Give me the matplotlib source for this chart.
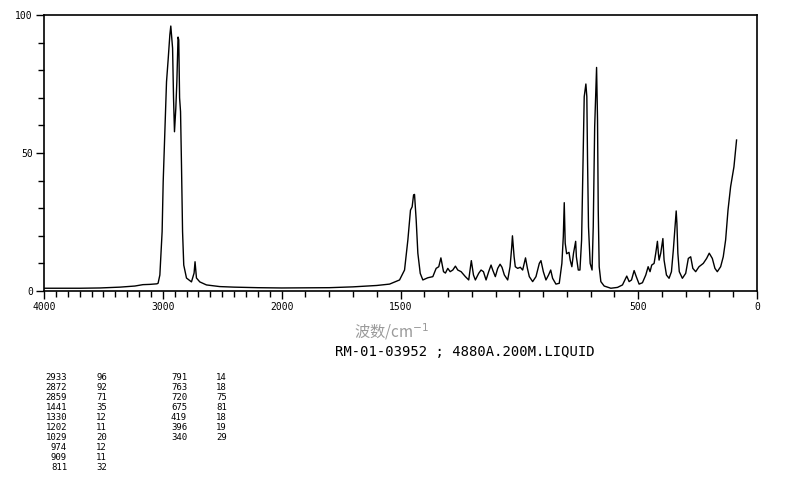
import numpy as np
import matplotlib
matplotlib.use("Agg")
import matplotlib.pyplot as plt
from matplotlib.ticker import FixedLocator, NullFormatter, FixedFormatter

# spectrum trace (wavenumber cm-1, intensity)
wavenumber = [4000, 3697, 3529, 3361, 3235, 3168, 3109, 3050, 3040, 3025,
              3006, 2997, 2983, 2969, 2955, 2941, 2933, 2918, 2910, 2902,
              2891, 2882, 2872, 2866, 2859, 2851, 2843, 2834, 2824, 2801,
              2759, 2737, 2729, 2717, 2689, 2633, 2521, 2400, 2200, 2000,
              1800, 1700, 1600, 1546, 1504, 1483, 1469, 1458, 1451, 1445,
              1441, 1434, 1427, 1417, 1406, 1385, 1364, 1350, 1339, 1330,
              1319, 1311, 1301, 1291, 1280, 1269, 1259, 1245, 1227, 1213,
              1202, 1193, 1185, 1171, 1161, 1151, 1140, 1129, 1119, 1112,
              1101, 1091, 1081, 1073, 1063, 1049, 1039, 1032, 1029, 1022,
              1017, 1007, 996, 986, 974, 966, 958, 944, 930, 916,
              909, 899, 888, 877, 868, 860, 846, 832, 821, 815,
              811, 807, 801, 791, 786, 779, 772, 763, 760, 752,
              745, 738, 732, 727, 720, 716, 713, 709, 702, 694,
              689, 683, 675, 671, 668, 664, 657, 643, 615, 587,
              566, 556, 548, 538, 528, 517, 508, 496, 482, 468,
              458, 450, 443, 433, 426, 419, 415, 412, 405, 396,
              391, 381, 370, 360, 352, 340, 337, 333, 327, 314,
              300, 289, 279, 270, 258, 244, 226, 212, 201, 188,
              177, 167, 153, 142, 132, 122, 111, 97, 86]
intensity = [1.0, 1.0, 1.1, 1.4, 1.8, 2.3, 2.4, 2.6, 2.8, 5.8,
             21.5, 39.6, 57.7, 75.8, 84.0, 92.8, 96.0, 88.0, 70.0, 57.7,
             66.0, 75.8, 92.0, 91.0, 70.0, 65.0, 45.6, 21.5, 9.4, 4.7,
             3.3, 6.5, 10.6, 4.7, 3.3, 2.2, 1.6, 1.4, 1.2, 1.1,
             1.2, 1.5, 2.0, 2.5, 4.0, 7.6, 18.5, 29.3, 30.5, 34.8,
             35.0, 25.7, 13.7, 6.4, 4.0, 4.8, 5.2, 8.2, 8.8, 12.0,
             7.0, 6.5, 8.2, 7.0, 7.6, 9.0, 7.6, 7.0, 5.2, 4.0,
             11.0, 5.8, 4.0, 6.4, 7.6, 7.0, 4.0, 7.0, 9.4, 7.6,
             5.2, 8.2, 9.7, 8.6, 5.8, 4.0, 8.8, 16.0, 20.0, 12.4,
             8.8, 8.2, 8.6, 7.6, 12.0, 8.2, 5.2, 3.4, 5.2, 10.0,
             11.0, 7.0, 4.0, 5.8, 7.6, 4.6, 2.5, 2.8, 10.0, 19.7,
             32.0, 17.3, 13.5, 14.0, 11.2, 8.8, 13.7, 18.0, 12.4, 7.6,
             7.6, 18.5, 47.5, 70.4, 75.0, 70.4, 47.5, 23.3, 10.0, 7.6,
             23.3, 59.5, 81.0, 62.0, 29.3, 8.8, 3.4, 1.8, 1.0, 1.3,
             2.2, 4.0, 5.4, 3.4, 4.0, 7.4, 5.2, 2.5, 3.0, 5.8,
             8.8, 7.0, 9.4, 10.0, 13.7, 18.0, 13.7, 11.2, 13.7, 19.0,
             11.2, 5.8, 4.6, 7.0, 14.9, 29.0, 24.5, 13.7, 7.0, 4.6,
             6.4, 11.8, 12.4, 8.2, 7.0, 8.8, 10.0, 11.8, 13.7, 11.8,
             8.2, 7.0, 8.8, 12.4, 18.5, 29.3, 37.8, 45.0, 54.7]

# peak table printed below the chart
peak_wn_1 = [2933, 2872, 2859, 1441, 1330, 1202, 1029, 974, 909, 811]
peak_int_1 = [96, 92, 71, 35, 12, 11, 20, 12, 11, 32]
peak_wn_2 = [791, 763, 720, 675, 419, 396, 340]
peak_int_2 = [14, 18, 75, 81, 18, 19, 29]

x_labels = ["4000", "3000", "2000", "1500", "500", "0"]
x_label_pos = [4000, 3000, 2000, 1500, 500, 0]
y_labels = ["0", "50", "100"]


# axis above 2000 cm-1 is squeezed to half scale
def fwd(w):
    w = np.asarray(w, dtype=float)
    return np.where(w > 2000, 2000 + (w - 2000) / 2.0, w)


def inv(p):
    p = np.asarray(p, dtype=float)
    return np.where(p > 2000, 2000 + (p - 2000) * 2.0, p)


W, H = 794, 482
fig = plt.figure(figsize=(W / 100, H / 100), dpi=100)
ax = fig.add_axes([44 / W, 1 - 291 / H, (757 - 44) / W, (291 - 15) / H])

ax.plot(wavenumber, intensity, color="black", lw=1.0)

ax.set_xscale("function", functions=(fwd, inv))
ax.set_xlim(4000, 0)
ax.set_ylim(0, 100)

ax.xaxis.set_major_locator(FixedLocator(x_label_pos))
ax.xaxis.set_major_formatter(FixedFormatter(x_labels))
ax.xaxis.set_minor_locator(FixedLocator(list(range(0, 4001, 100))))
ax.xaxis.set_minor_formatter(NullFormatter())
ax.yaxis.set_major_locator(FixedLocator([0, 50, 100]))
ax.yaxis.set_major_formatter(FixedFormatter(y_labels))
ax.yaxis.set_minor_locator(FixedLocator(list(range(0, 101, 10))))

ax.tick_params(which="major", direction="out", length=6, width=1,
               labelsize=7, pad=2)
ax.tick_params(which="minor", direction="out", length=4, width=1)
ax.tick_params(axis="x", which="both", top=False)
ax.tick_params(axis="y", which="both", right=False)
for lab in ax.get_xticklabels() + ax.get_yticklabels():
    lab.set_family("DejaVu Sans Mono")
for s in ax.spines.values():
    s.set_linewidth(1.2)

fig.text(392 / W, 1 - 332 / H, "波数/cm$^{-1}$", ha="center", va="center",
         fontsize=11, color="#9a9a9a",
         family=["Noto Sans CJK SC", "DejaVu Sans"])
fig.text(465 / W, 1 - 352 / H, "RM-01-03952 ; 4880A.200M.LIQUID",
         ha="center", va="center", fontsize=10, family="DejaVu Sans Mono")

row_h = 10.1
for i, (w, v) in enumerate(zip(peak_wn_1, peak_int_1)):
    y = 1 - (377 + i * row_h) / H
    fig.text(67 / W, y, str(w), ha="right", va="center", fontsize=6.5,
             family="DejaVu Sans Mono")
    fig.text(107 / W, y, str(v), ha="right", va="center", fontsize=6.5,
             family="DejaVu Sans Mono")
for i, (w, v) in enumerate(zip(peak_wn_2, peak_int_2)):
    y = 1 - (377 + i * row_h) / H
    fig.text(187 / W, y, str(w), ha="right", va="center", fontsize=6.5,
             family="DejaVu Sans Mono")
    fig.text(227 / W, y, str(v), ha="right", va="center", fontsize=6.5,
             family="DejaVu Sans Mono")

fig.savefig("out.png", dpi=100)
